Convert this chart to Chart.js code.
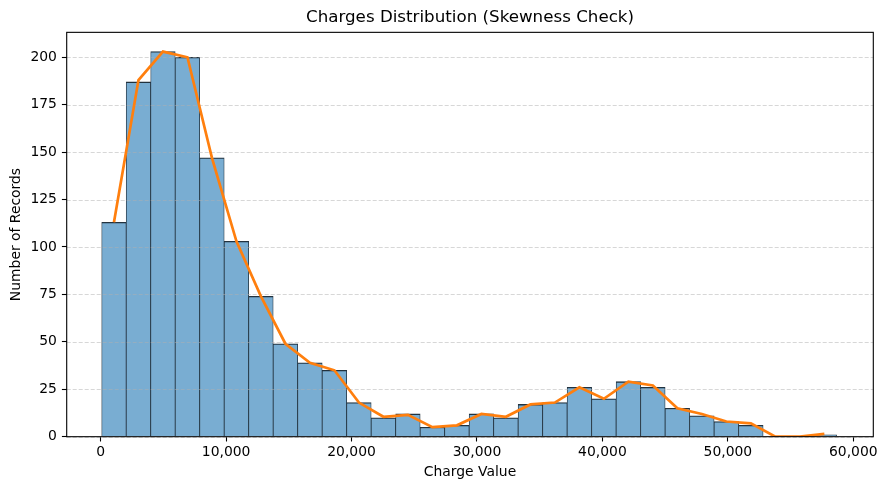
<!DOCTYPE html>
<html>
<head>
<meta charset="utf-8">
<script src="https://cdn.jsdelivr.net/npm/chart.js@4.4.0/dist/chart.umd.min.js"></script>
<style>
  html, body { margin: 0; padding: 0; background: #fff; }
</style>
</head>
<body>
<canvas id="chart" width="887" height="490"></canvas>
<script>
// bin centres (charge value) and record counts
const binCenters = [1057, 3010, 4963, 6916, 8869, 10822, 12775, 14728, 16681, 18634,
  20587, 22540, 24493, 26446, 28399, 30352, 32305, 34258, 36211, 38164,
  40117, 42070, 44023, 45976, 47929, 49882, 51835, 53788, 55741, 57694];
const recordCounts = [113, 187, 203, 200, 147, 103, 74, 49, 39, 35,
  18, 10, 12, 5, 6, 12, 10, 17, 18, 26,
  20, 29, 26, 15, 11, 8, 6, 0, 0, 1];
// orange trend line drawn over the bars
const trendLine = [113, 188, 203, 200, 147, 103, 74, 49, 39, 35,
  18, 10.5, 11.5, 5, 6, 12, 10.5, 17, 18, 26,
  20, 29, 27, 15, 12, 8, 7, 0, 0, 1.5];
const xTicks = [0, 10000, 20000, 30000, 40000, 50000, 60000];
const yTicks = [0, 25, 50, 75, 100, 125, 150, 175, 200];

const FONT = "'DejaVu Sans', sans-serif";

// dashed y grid sits above the bars but below the line
const gridPlugin = {
  id: "gridBetween",
  afterDatasetDraw(chart, args) {
    if (args.index !== 0) return;
    const { ctx, chartArea, scales } = chart;
    ctx.save();
    ctx.strokeStyle = "rgba(176,176,176,0.5)";
    ctx.lineWidth = 1;
    ctx.setLineDash([4, 2]);
    yTicks.forEach(v => {
      const y = Math.round(scales.y.getPixelForValue(v)) + 0.5;
      ctx.beginPath();
      ctx.moveTo(chartArea.left, y);
      ctx.lineTo(chartArea.right, y);
      ctx.stroke();
    });
    ctx.restore();
  }
};

// full box round the plot area
const framePlugin = {
  id: "frame",
  afterDraw(chart) {
    const { ctx, chartArea } = chart;
    ctx.save();
    ctx.strokeStyle = "#000";
    ctx.lineWidth = 1.1;
    ctx.strokeRect(chartArea.left, chartArea.top,
      chartArea.right - chartArea.left, chartArea.bottom - chartArea.top);
    ctx.restore();
  }
};

new Chart(document.getElementById("chart"), {
  type: "bar",
  data: {
    datasets: [
      {
        type: "bar",
        data: binCenters.map((x, i) => ({ x: x, y: recordCounts[i] })),
        backgroundColor: "#79add2",
        borderColor: "#22323e",
        borderWidth: { top: 1.3, left: 0.8, right: 0.8, bottom: 0 },
        categoryPercentage: 1,
        barPercentage: 1,
        order: 2
      },
      {
        type: "line",
        data: binCenters.map((x, i) => ({ x: x, y: trendLine[i] })),
        borderColor: "#ff7f0e",
        borderWidth: 2.7,
        pointRadius: 0,
        tension: 0,
        fill: false,
        order: 1
      }
    ]
  },
  options: {
    responsive: false,
    animation: false,
    layout: { padding: { left: 0, right: 13.7, top: 0, bottom: 0 } },
    plugins: {
      legend: { display: false },
      tooltip: { enabled: false },
      title: {
        display: true,
        fullSize: false,
        text: "Charges Distribution (Skewness Check)",
        color: "#000",
        font: { family: FONT, size: 16.7, weight: "normal" },
        padding: { top: 7.5, bottom: 4.8 }
      }
    },
    scales: {
      x: {
        type: "linear",
        min: -2711,
        max: 61596,
        offset: false,
        afterFit: s => { s.height = 53.3; },
        afterBuildTicks: s => { s.ticks = xTicks.map(v => ({ value: v })); },
        grid: { drawOnChartArea: false, offset: false, tickLength: 4.8, tickColor: "#000", tickWidth: 1.1 },
        border: { display: false },
        ticks: {
          color: "#000",
          padding: 3,
          maxRotation: 0,
          font: { family: FONT, size: 13.9 },
          callback: v => v.toLocaleString("en-US")
        },
        title: {
          display: true,
          text: "Charge Value",
          color: "#000",
          font: { family: FONT, size: 13.9 },
          padding: { top: 0, bottom: 9 }
        }
      },
      y: {
        min: 0,
        max: 213.15,
        afterFit: s => { s.width = 66.7; },
        afterBuildTicks: s => { s.ticks = yTicks.map(v => ({ value: v })); },
        grid: { drawOnChartArea: false, tickLength: 4.8, tickColor: "#000", tickWidth: 1.1 },
        border: { display: false },
        ticks: {
          color: "#000",
          padding: 5,
          font: { family: FONT, size: 13.9 }
        },
        title: {
          display: true,
          text: "Number of Records",
          color: "#000",
          font: { family: FONT, size: 13.9 },
          padding: { top: 8.2, bottom: 0 }
        }
      }
    }
  },
  plugins: [gridPlugin, framePlugin]
});
</script>
</body>
</html>
